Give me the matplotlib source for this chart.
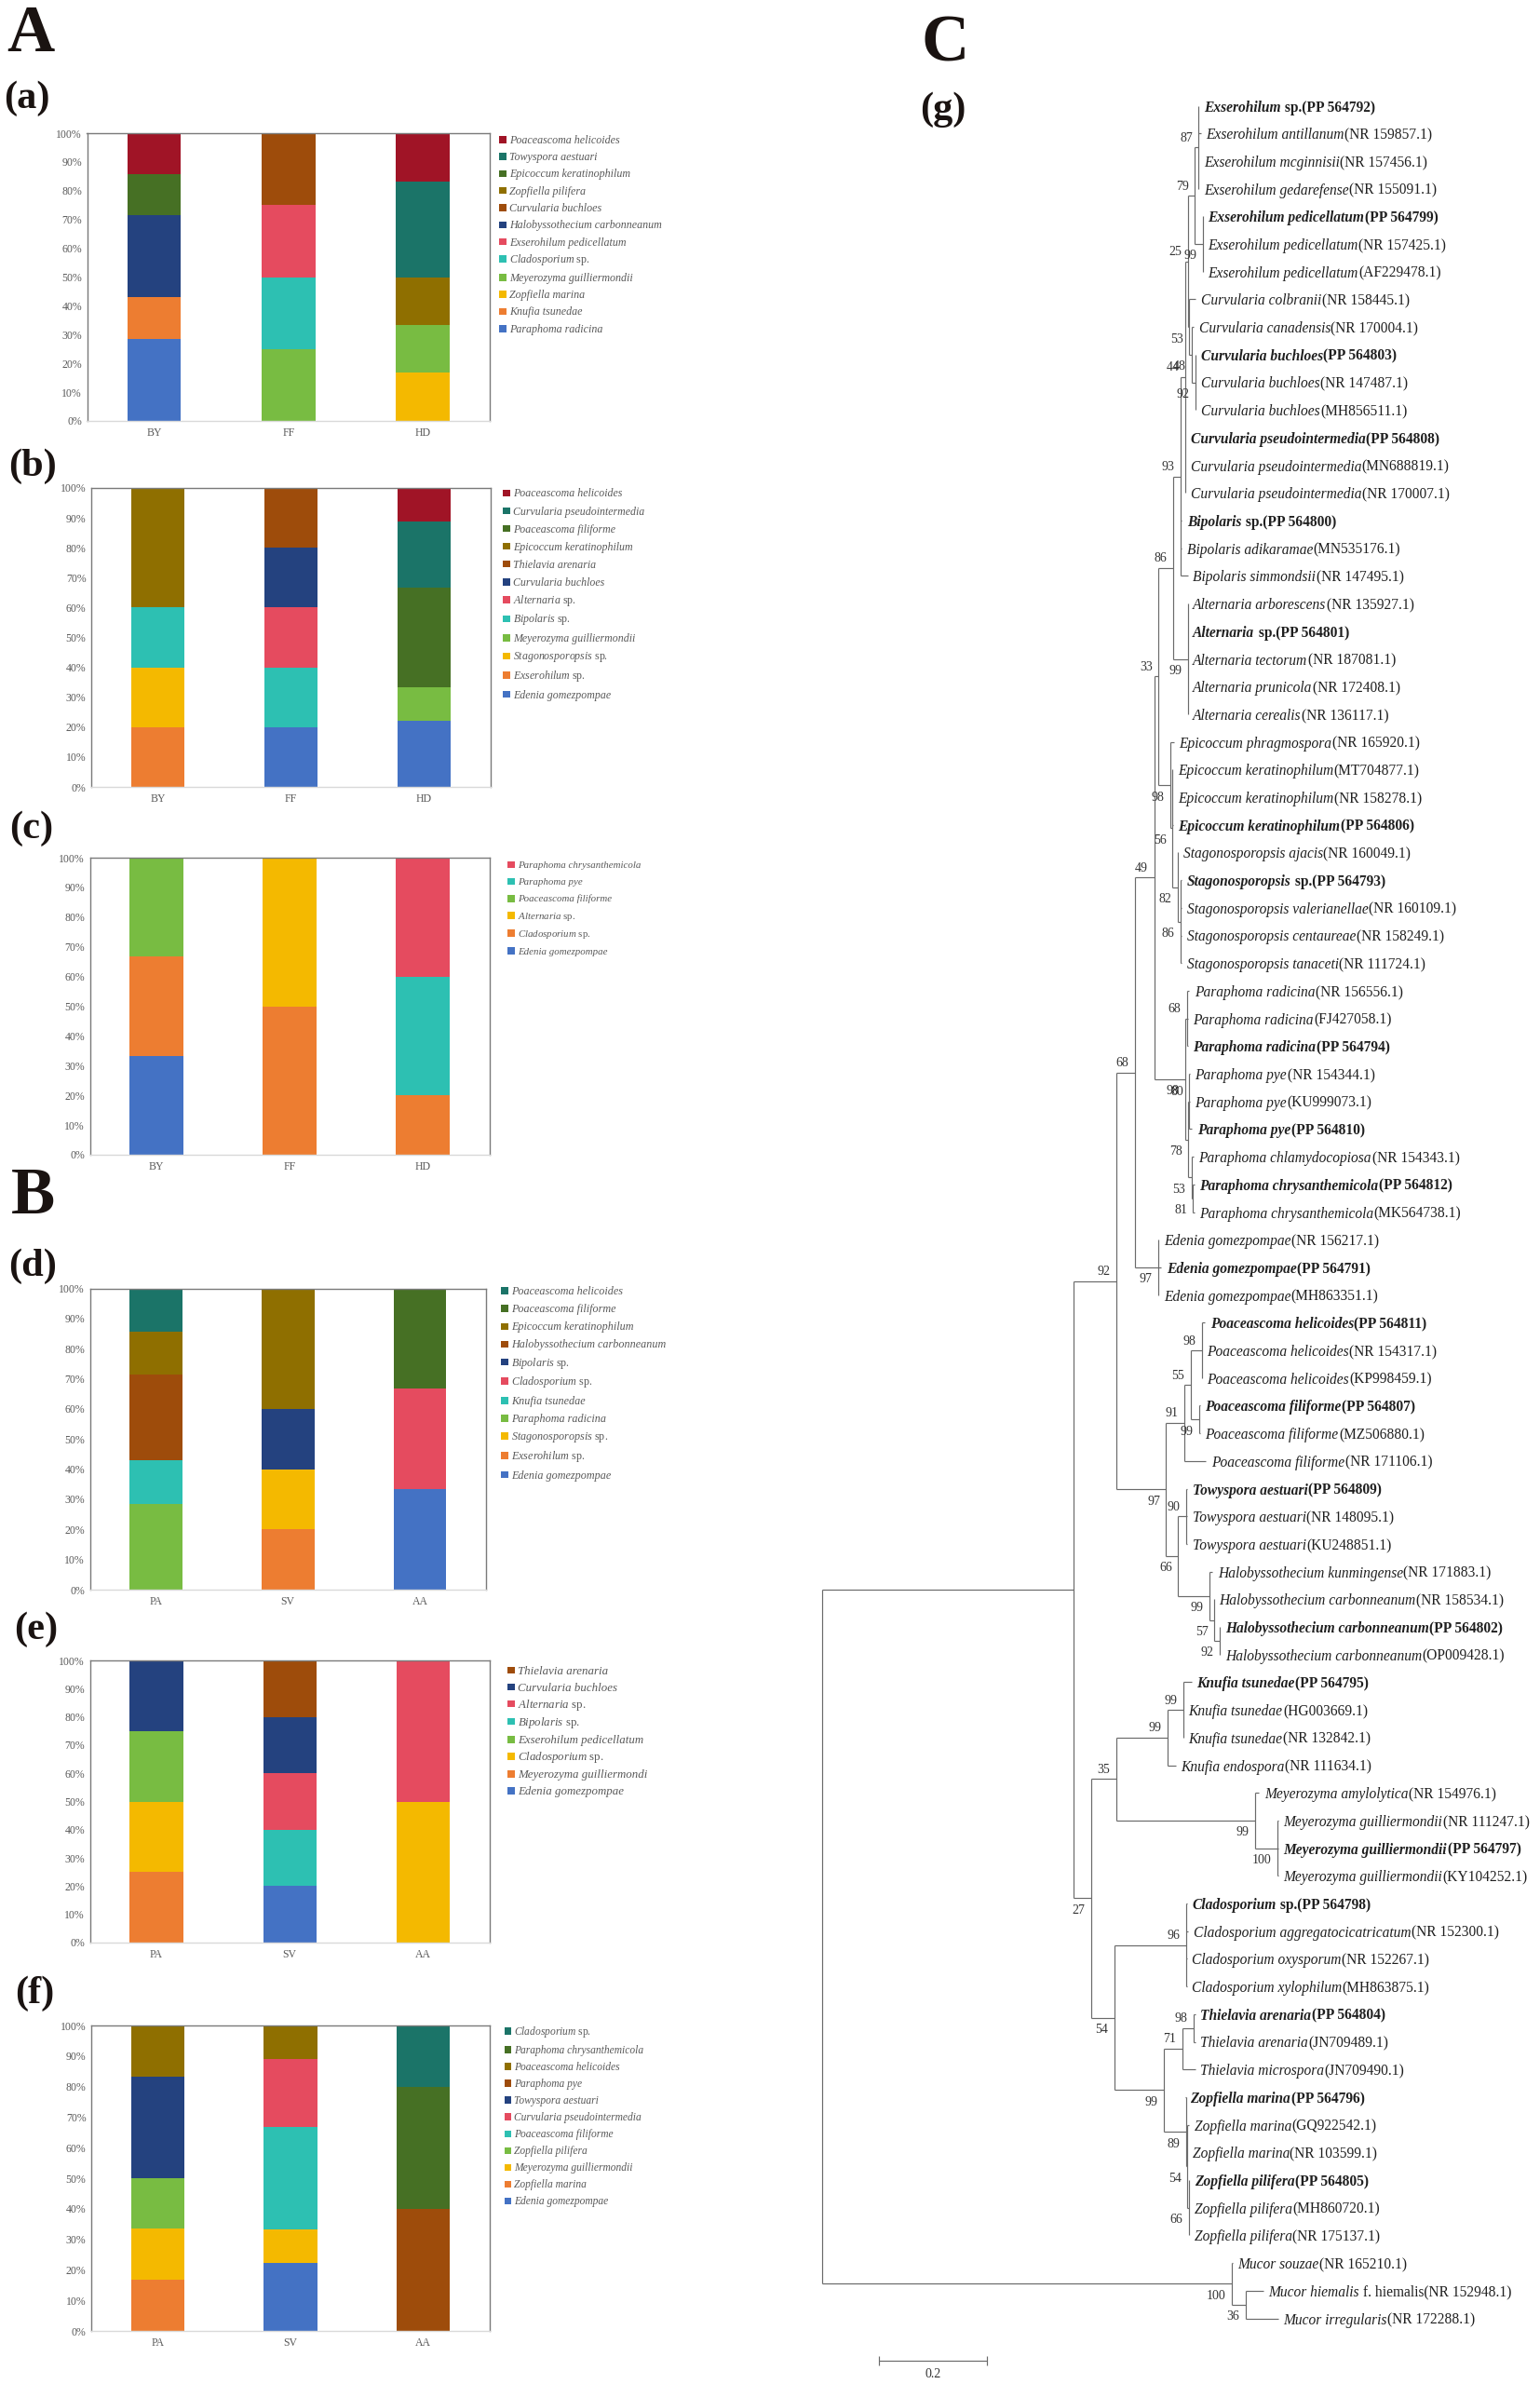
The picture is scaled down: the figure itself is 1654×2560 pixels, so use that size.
import matplotlib
matplotlib.use("Agg")
import matplotlib.pyplot as plt
from matplotlib.legend_handler import HandlerBase
from matplotlib.patches import Patch, Rectangle

plt.rcParams['font.family'] = ['Liberation Serif', 'DejaVu Serif']
plt.rcParams['mathtext.fontset'] = 'custom'
plt.rcParams['mathtext.rm'] = 'Liberation Serif'
plt.rcParams['mathtext.it'] = 'Liberation Serif:italic'
plt.rcParams['mathtext.bf'] = 'Liberation Serif:bold'

W, H = 1654, 2560
fig = plt.figure(figsize=(W / 100, H / 100), dpi=100, facecolor='white')

PALETTE = ['#4472C4', '#ED7D31', '#F4B900', '#78BC42', '#2DC0B2', '#E54B5F',
           '#24427F', '#9E4C0B', '#8F6F00', '#467024', '#1B7468', '#A01426']
PCT = [0, 10, 20, 30, 40, 50, 60, 70, 80, 90, 100]

# ---- panel data: species listed bottom-to-top of the stack, values in percent per site
SITES_ABC = ['BY', 'FF', 'HD']
SITES_DEF = ['PA', 'SV', 'AA']

A_SPECIES = ['Paraphoma radicina', 'Knufia tsunedae', 'Zopfiella marina', 'Meyerozyma guilliermondii',
             'Cladosporium sp.', 'Exserohilum pedicellatum', 'Halobyssothecium carbonneanum',
             'Curvularia buchloes', 'Zopfiella pilifera', 'Epicoccum keratinophilum',
             'Towyspora aestuari', 'Poaceascoma helicoides']
A_BY = [28.6, 14.3, 0, 0, 0, 0, 28.6, 0, 0, 14.3, 0, 14.2]
A_FF = [0, 0, 0, 25, 25, 25, 0, 25, 0, 0, 0, 0]
A_HD = [0, 0, 16.7, 16.7, 0, 0, 0, 0, 16.6, 0, 33.3, 16.7]

B_SPECIES = ['Edenia gomezpompae', 'Exserohilum sp.', 'Stagonosporopsis sp.', 'Meyerozyma guilliermondii',
             'Bipolaris sp.', 'Alternaria sp.', 'Curvularia buchloes', 'Thielavia arenaria',
             'Epicoccum keratinophilum', 'Poaceascoma filiforme', 'Curvularia pseudointermedia',
             'Poaceascoma helicoides']
B_BY = [0, 20, 20, 0, 20, 0, 0, 0, 40, 0, 0, 0]
B_FF = [20, 0, 0, 0, 20, 20, 20, 20, 0, 0, 0, 0]
B_HD = [22.2, 0, 0, 11.1, 0, 0, 0, 0, 0, 33.4, 22.2, 11.1]

C_SPECIES = ['Edenia gomezpompae', 'Cladosporium sp.', 'Alternaria sp.', 'Poaceascoma filiforme',
             'Paraphoma pye', 'Paraphoma chrysanthemicola']
C_BY = [33.3, 33.4, 0, 33.3, 0, 0]
C_FF = [0, 50, 50, 0, 0, 0]
C_HD = [0, 20, 0, 0, 40, 40]

D_SPECIES = ['Edenia gomezpompae', 'Exserohilum sp.', 'Stagonosporopsis sp.', 'Paraphoma radicina',
             'Knufia tsunedae', 'Cladosporium sp.', 'Bipolaris sp.', 'Halobyssothecium carbonneanum',
             'Epicoccum keratinophilum', 'Poaceascoma filiforme', 'Poaceascoma helicoides']
D_PA = [0, 0, 0, 28.6, 14.3, 0, 0, 28.6, 14.3, 0, 14.2]
D_SV = [0, 20, 20, 0, 0, 0, 20, 0, 40, 0, 0]
D_AA = [33.3, 0, 0, 0, 0, 33.4, 0, 0, 0, 33.3, 0]

E_SPECIES = ['Edenia gomezpompae', 'Meyerozyma guilliermondi', 'Cladosporium sp.', 'Exserohilum pedicellatum',
             'Bipolaris sp.', 'Alternaria sp.', 'Curvularia buchloes', 'Thielavia arenaria']
E_PA = [0, 25, 25, 25, 0, 0, 25, 0]
E_SV = [20, 0, 0, 0, 20, 20, 20, 20]
E_AA = [0, 0, 50, 0, 0, 50, 0, 0]

F_SPECIES = ['Edenia gomezpompae', 'Zopfiella marina', 'Meyerozyma guilliermondii', 'Zopfiella pilifera',
             'Poaceascoma filiforme', 'Curvularia pseudointermedia', 'Towyspora aestuari', 'Paraphoma pye',
             'Poaceascoma helicoides', 'Paraphoma chrysanthemicola', 'Cladosporium sp.']
F_PA = [0, 16.7, 16.7, 16.6, 0, 0, 33.3, 0, 16.7, 0, 0]
F_SV = [22.2, 0, 11.1, 0, 33.4, 22.2, 0, 0, 11.1, 0, 0]
F_AA = [0, 0, 0, 0, 0, 0, 0, 40, 0, 40, 20]

# layout: (axes left, right, top, bottom), legend (x, first-row y, row step, font size) in pixels/pt
PANELS = [
    (SITES_ABC, A_SPECIES, [A_BY, A_FF, A_HD], (93.5, 526, 143, 452), (536, 150.3, 18.3, 8.65)),
    (SITES_ABC, B_SPECIES, [B_BY, B_FF, B_HD], (98, 527, 524, 845), (540, 530, 19.05, 8.6)),
    (SITES_ABC, C_SPECIES, [C_BY, C_FF, C_HD], (96.5, 525.5, 921, 1240), (545, 929, 18.15, 7.8)),
    (SITES_DEF, D_SPECIES, [D_PA, D_SV, D_AA], (96.5, 522, 1383.6, 1707), (538, 1386.6, 19.1, 8.75)),
    (SITES_DEF, E_SPECIES, [E_PA, E_SV, E_AA], (96.5, 526, 1783, 2086), (545, 1794, 17.9, 9.3)),
    (SITES_DEF, F_SPECIES, [F_PA, F_SV, F_AA], (98, 526, 2175, 2503), (541.5, 2181.5, 18.05, 8.3)),
]


class SquareHandler(HandlerBase):
    """Small square swatch centred on the text's x-height, inside a fixed-height row."""

    def create_artists(self, legend, orig, xdescent, ydescent, width, height, fontsize, trans):
        side = 5.4
        r = Rectangle((0, 0.33 * fontsize - side / 2), side, side,
                      facecolor=orig.get_facecolor(), edgecolor='none', transform=trans)
        return [r]


def stacked(sites, species, columns, box, leg):
    l, r, t, b = box
    ax = fig.add_axes([l / W, 1 - b / H, (r - l) / W, (b - t) / H])
    bottoms = [0.0] * len(sites)
    handles = []
    for k, name in enumerate(species):
        vals = [col[k] for col in columns]
        ax.bar(range(len(sites)), vals, width=0.4, bottom=bottoms,
               color=PALETTE[k], edgecolor='none')
        handles.append(Patch(facecolor=PALETTE[k]))
        bottoms = [a + v for a, v in zip(bottoms, vals)]
    ax.set_xlim(-0.5, 2.5)
    ax.set_ylim(0, 100)
    ax.set_yticks(PCT)
    ax.set_yticklabels([f'{p}%' for p in PCT], fontsize=8.5, color='#595959')
    ax.set_xticks(range(len(sites)))
    ax.set_xticklabels(sites, fontsize=8.5, color='#595959')
    ax.tick_params(length=0, axis='y', pad=4)
    ax.tick_params(length=0, axis='x', pad=5)
    for s in ('left', 'right', 'top'):
        ax.spines[s].set_color('#7a7a7a')
        ax.spines[s].set_linewidth(1.0)
    ax.spines['bottom'].set_color('#d9d9d9')
    ax.spines['bottom'].set_linewidth(1.0)
    lx, ly, step, fs = leg
    fpx = fs * 100 / 72
    labels = [rf'$\mathit{{{n[:-4]}}}$ sp.' if n.endswith(' sp.') else n for n in species]
    lg = ax.legend(handles[::-1], labels[::-1], loc='upper left',
                   bbox_to_anchor=(lx / W, 1 - (ly - 0.65 * fpx) / H), bbox_transform=fig.transFigure,
                   frameon=False, fontsize=fs, borderpad=0, borderaxespad=0,
                   handler_map={Patch: SquareHandler()},
                   handlelength=7.5 / fpx, handleheight=1.5, handletextpad=3.5 / fpx,
                   labelspacing=(step - 1.22 * fpx) / fpx, labelcolor='#595959')
    for txt in lg.get_texts():
        if '$' not in txt.get_text():
            txt.set_fontstyle('italic')


for p in PANELS:
    stacked(*p)

# ---- panel letters: (text, left px, baseline px, size pt)
LETTERS = [('A', 7, 55, 51), ('B', 12, 1303, 51), ('C', 990, 66, 51),
           ('(a)', 4, 115.6, 30.5), ('(b)', 9, 510.6, 30.5), ('(c)', 10, 899.6, 30.5),
           ('(d)', 9, 1369.6, 30.5), ('(e)', 15.5, 1759.6, 30.5), ('(f)', 16, 2150.6, 30.5),
           ('(g)', 988, 127.6, 30.5)]
for s, x, y, size in LETTERS:
    fig.text(x / W, 1 - y / H, s, fontsize=size, fontweight='bold', color='#1a1311',
             ha='left', va='baseline')

# ---- phylogeny: names ("|" starts the upright part), accessions, tip distance from root
TIP_NAMES = [
    'Exserohilum| sp.', 'Exserohilum antillanum', 'Exserohilum mcginnisii', 'Exserohilum gedarefense',
    'Exserohilum pedicellatum', 'Exserohilum pedicellatum', 'Exserohilum pedicellatum',
    'Curvularia colbranii', 'Curvularia canadensis', 'Curvularia buchloes', 'Curvularia buchloes',
    'Curvularia buchloes', 'Curvularia pseudointermedia', 'Curvularia pseudointermedia',
    'Curvularia pseudointermedia', 'Bipolaris| sp.', 'Bipolaris adikaramae', 'Bipolaris simmondsii',
    'Alternaria arborescens', 'Alternaria| sp.', 'Alternaria tectorum', 'Alternaria prunicola',
    'Alternaria cerealis', 'Epicoccum phragmospora', 'Epicoccum keratinophilum', 'Epicoccum keratinophilum',
    'Epicoccum keratinophilum', 'Stagonosporopsis ajacis', 'Stagonosporopsis| sp.',
    'Stagonosporopsis valerianellae', 'Stagonosporopsis centaureae', 'Stagonosporopsis tanaceti',
    'Paraphoma radicina', 'Paraphoma radicina', 'Paraphoma radicina', 'Paraphoma pye', 'Paraphoma pye',
    'Paraphoma pye', 'Paraphoma chlamydocopiosa', 'Paraphoma chrysanthemicola', 'Paraphoma chrysanthemicola',
    'Edenia gomezpompae', 'Edenia gomezpompae', 'Edenia gomezpompae', 'Poaceascoma helicoides',
    'Poaceascoma helicoides', 'Poaceascoma helicoides', 'Poaceascoma filiforme', 'Poaceascoma filiforme',
    'Poaceascoma filiforme', 'Towyspora aestuari', 'Towyspora aestuari', 'Towyspora aestuari',
    'Halobyssothecium kunmingense', 'Halobyssothecium carbonneanum', 'Halobyssothecium carbonneanum',
    'Halobyssothecium carbonneanum', 'Knufia tsunedae', 'Knufia tsunedae', 'Knufia tsunedae',
    'Knufia endospora', 'Meyerozyma amylolytica', 'Meyerozyma guilliermondii', 'Meyerozyma guilliermondii',
    'Meyerozyma guilliermondii', 'Cladosporium| sp.', 'Cladosporium aggregatocicatricatum',
    'Cladosporium oxysporum', 'Cladosporium xylophilum', 'Thielavia arenaria', 'Thielavia arenaria',
    'Thielavia microspora', 'Zopfiella marina', 'Zopfiella marina', 'Zopfiella marina', 'Zopfiella pilifera',
    'Zopfiella pilifera', 'Zopfiella pilifera', 'Mucor souzae', 'Mucor hiemalis| f. hiemalis',
    'Mucor irregularis']
TIP_ACCESSIONS = [
    'PP 564792', 'NR 159857.1', 'NR 157456.1', 'NR 155091.1', 'PP 564799', 'NR 157425.1', 'AF229478.1',
    'NR 158445.1', 'NR 170004.1', 'PP 564803', 'NR 147487.1', 'MH856511.1', 'PP 564808', 'MN688819.1',
    'NR 170007.1', 'PP 564800', 'MN535176.1', 'NR 147495.1', 'NR 135927.1', 'PP 564801', 'NR 187081.1',
    'NR 172408.1', 'NR 136117.1', 'NR 165920.1', 'MT704877.1', 'NR 158278.1', 'PP 564806', 'NR 160049.1',
    'PP 564793', 'NR 160109.1', 'NR 158249.1', 'NR 111724.1', 'NR 156556.1', 'FJ427058.1', 'PP 564794',
    'NR 154344.1', 'KU999073.1', 'PP 564810', 'NR 154343.1', 'PP 564812', 'MK564738.1', 'NR 156217.1',
    'PP 564791', 'MH863351.1', 'PP 564811', 'NR 154317.1', 'KP998459.1', 'PP 564807', 'MZ506880.1',
    'NR 171106.1', 'PP 564809', 'NR 148095.1', 'KU248851.1', 'NR 171883.1', 'NR 158534.1', 'PP 564802',
    'OP009428.1', 'PP 564795', 'HG003669.1', 'NR 132842.1', 'NR 111634.1', 'NR 154976.1', 'NR 111247.1',
    'PP 564797', 'KY104252.1', 'PP 564798', 'NR 152300.1', 'NR 152267.1', 'MH863875.1', 'PP 564804',
    'JN709489.1', 'JN709490.1', 'PP 564796', 'GQ922542.1', 'NR 103599.1', 'PP 564805', 'MH860720.1',
    'NR 175137.1', 'NR 165210.1', 'NR 152948.1', 'NR 172288.1']
TIP_DIST = [
    .697, .701, .697, .697, .705, .705, .705, .692, .688, .692, .692, .692, .673, .673, .673, .666, .666, .677,
    .677, .677, .677, .677, .677, .651, .649, .649, .650, .659, .666, .666, .666, .666, .680, .677, .677, .681,
    .681, .685, .688, .689, .689, .623, .628, .623, .709, .703, .703, .700, .700, .711, .676, .676, .676, .723,
    .726, .737, .737, .684, .669, .669, .655, .809, .845, .845, .845, .675, .678, .675, .675, .691, .691, .691,
    .672, .680, .676, .680, .680, .680, .760, .817, .845]


def N(dist, support, *children):
    return (dist, support, children)


# node = distance from root, bootstrap, children (integers are 1-based tip rows)
TREE = N(0, None,
  N(.466, None,
    N(.544, 92,
      N(.579, 68,
        N(.615, 49,
          N(.623, 33,
            N(.650, 86,
              N(.664, 93,
                N(.672, 44,
                  N(.677, 25,
                    N(.690, 79,
                      N(.697, 87, 1, 2, 3, 4),
                      N(.705, 99, 5, 6, 7)),
                    N(.680, 53, 8,
                      N(.684, 48, 9,
                        N(.691, 92, 10, 11, 12)))),
                  13, 14, 15),
                16, 17, 18),
              N(.677, 99, 19, 20, 21, 22, 23)),
            N(.645, 98, 24,
              N(.649, 56, 25, 26, 27,
                N(.659, 82, 28,
                  N(.664, 86, 29, 30, 31, 32))))),
          N(.673, 98,
            N(.675, 68, 33, 34, 35),
            N(.678, 78,
              N(.680, 80, 36, 37, 38),
              N(.684, 53, 39,
                N(.687, 81, 40, 41))))),
        N(.622, 97, 42, 43, 44)),
      N(.637, 97,
        N(.671, 91,
          N(.682, 55,
            N(.703, 98, 45, 46, 47),
            N(.699, 99, 48, 49)),
          50),
        N(.659, 66,
          N(.674, 90, 51, 52, 53),
          N(.717, 99, 54,
            N(.726, 57, 55,
              N(.736, 92, 56, 57)))))),
    N(.498, 27,
      N(.544, 35,
        N(.639, 99,
          N(.669, 99, 58, 59, 60),
          61),
        N(.801, 99, 62,
          N(.843, 100, 63, 64, 65))),
      N(.541, 54,
        N(.674, 96, 66, 67, 68, 69),
        N(.632, 99,
          N(.667, 71,
            N(.688, 98, 70, 71),
            72),
          N(.674, 89, 73,
            N(.676, 54, 74, 75,
              N(.679, 66, 76, 77, 78))))))),
  N(.759, 100, 79,
    N(.784, 36, 80, 81)))

SCALE_BAR = 0.2
SCALE_START = 0.106
SCALE_ROW = 81.53

# tree axes spans the figure: x = distance from root, y = tip row
PX_PER_UNIT = 580.0
ROOT_PX = 883.0
ROW_PX = 29.7
ROW0_PX = 113.5
tree_ax = fig.add_axes([0, 0, 1, 1], facecolor='none')
tree_ax.set_xlim(-ROOT_PX / PX_PER_UNIT, (W - ROOT_PX) / PX_PER_UNIT)
tree_ax.set_ylim((H - ROW0_PX) / ROW_PX, -ROW0_PX / ROW_PX)
tree_ax.axis('off')

LINE = dict(color='#6a6a6a', lw=0.85, solid_capstyle='butt')
renderer = fig.canvas.get_renderer()


def draw(node, is_last=False):
    dist, support, children = node
    ys, xs = [], []
    for i, c in enumerate(children):
        last = i == len(children) - 1
        if isinstance(c, int):
            ys.append(c - 1)
            xs.append(TIP_DIST[c - 1])
        else:
            xc, yc = draw(c, last)
            xs.append(xc)
            ys.append(yc)
    y = (ys[0] + ys[-1]) / 2
    tree_ax.plot([dist, dist], [ys[0], ys[-1]], **LINE)
    for xc, yc in zip(xs, ys):
        tree_ax.plot([dist, xc], [yc, yc], **LINE)
    if support is not None:
        dy = -13.0 if is_last else 10.0
        tree_ax.annotate(str(support), xy=(dist, y), xytext=(-6.5 * 0.72, dy * 0.72),
                         textcoords='offset points', ha='right', va='center',
                         fontsize=10, color='#333333')
    return dist, y


draw(TREE)


def tip_label(i):
    name = TIP_NAMES[i]
    acc = TIP_ACCESSIONS[i]
    bold = acc.startswith('PP')
    w = 'bold' if bold else 'normal'
    ital, _, upright = name.partition('|')
    pieces = [(ital, 'italic'), (upright + '(' + acc + ')', 'normal')]
    off = 5.5
    for s, style in pieces:
        t = tree_ax.annotate(s, xy=(TIP_DIST[i], i), xytext=(off * 0.72, 0), textcoords='offset points',
                             ha='left', va='center_baseline', fontsize=11.2, fontstyle=style,
                             fontweight=w, color='#1f1f1f')
        off += t.get_window_extent(renderer).width + 0.5


for i in range(len(TIP_NAMES)):
    tip_label(i)

tree_ax.plot([SCALE_START, SCALE_START + SCALE_BAR], [SCALE_ROW, SCALE_ROW], **LINE)
for e in (SCALE_START, SCALE_START + SCALE_BAR):
    tree_ax.plot([e, e], [SCALE_ROW - 0.17, SCALE_ROW + 0.17], **LINE)
tree_ax.annotate(str(SCALE_BAR), xy=(SCALE_START + SCALE_BAR / 2, SCALE_ROW), xytext=(0, -15 * 0.72),
                 textcoords='offset points', ha='center', va='center', fontsize=10, color='#333333')

fig.savefig('out.png', dpi=100, facecolor='white')
